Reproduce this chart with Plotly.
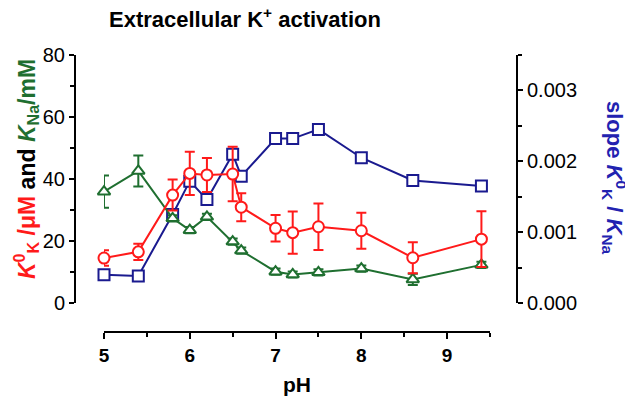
import plotly.graph_objects as go

# ---- data ----
ph = [5.0, 5.4, 5.8, 6.0, 6.2, 6.5, 6.6, 7.0, 7.2, 7.5, 8.0, 8.6, 9.4]
k0_k = [14.5, 16.5, 34.8, 41.8, 41.3, 41.6, 30.9, 24.1, 22.7, 24.6, 23.3, 14.6, 20.6]
k0_k_err = [2.5, 2.6, 5.0, 7.0, 5.5, 8.8, 4.5, 4.3, 6.8, 7.5, 5.8, 5.0, 9.0]
k_na = [35.9, 42.6, 27.3, 23.5, 27.8, 19.8, 16.9, 10.1, 9.2, 9.9, 11.1, 7.6, 12.3]
k_na_err = [5.2, 5.0, 1.0, 1.0, 1.0, 1.0, 1.0, 1.0, 1.0, 1.0, 1.0, 1.8, 1.0]
slope = [0.00040, 0.00038, 0.00125, 0.00172, 0.00146, 0.00210, 0.00179,
         0.00232, 0.00232, 0.00245, 0.00205, 0.00173, 0.00165]

x_ticks = [5, 6, 7, 8, 9]

RED = "#ff1a1a"
GREEN = "#1f6f30"
BLUE = "#1a1a8f"
BLUE_TEXT = "#2222b0"
FONT = "Liberation Sans, Arial, sans-serif"

fig = go.Figure()

fig.add_trace(go.Scatter(
    x=ph, y=slope, yaxis="y", mode="lines+markers",
    line=dict(color=BLUE, width=2),
    marker=dict(symbol="square", size=11, color="white", line=dict(color=BLUE, width=2)),
    cliponaxis=False, showlegend=False))

fig.add_trace(go.Scatter(
    x=ph, y=k_na, yaxis="y2", mode="lines+markers",
    line=dict(color=GREEN, width=2),
    marker=dict(symbol="triangle-up", size=11, color="white", line=dict(color=GREEN, width=2)),
    error_y=dict(type="data", array=k_na_err, color=GREEN, thickness=2, width=5),
    cliponaxis=False, showlegend=False))

fig.add_trace(go.Scatter(
    x=ph, y=k0_k, yaxis="y2", mode="lines+markers",
    line=dict(color=RED, width=2),
    marker=dict(symbol="circle", size=11, color="white", line=dict(color=RED, width=2)),
    error_y=dict(type="data", array=k0_k_err, color=RED, thickness=2, width=5),
    cliponaxis=False, showlegend=False))

# page body has an 8px margin, so the figure is 8px smaller and shifted
OFF = 8
W, H = 633 - OFF, 397 - OFF
L, R, T, B = 75 - OFF, 116, 55 - OFF, 65
pw, ph_ = W - L - R, H - T - B


def px(xp):
    """reference pixel x -> paper fraction"""
    return (xp - OFF - L) / pw


def py(yp):
    """reference pixel y -> paper fraction"""
    return (H - B - (yp - OFF)) / ph_


axis_common = dict(showgrid=False, zeroline=False, showline=True, linecolor="black",
                   linewidth=2, ticks="outside", tickcolor="black", tickwidth=2)

fig.update_layout(
    width=W, height=H,
    margin=dict(l=L, r=R, t=T, b=B),
    paper_bgcolor="white", plot_bgcolor="white",
    font=dict(family=FONT, color="black"),
    xaxis=dict(**axis_common, range=[5, 9.5], domain=[px(104), px(490)],
               anchor="free", position=0, tickvals=x_ticks, ticklen=6,
               tickfont=dict(size=19, family=FONT, color="black", weight="bold"),
               minor=dict(dtick=0.5, tick0=5, ticklen=4, tickwidth=2, ticks="outside",
                          tickcolor="black")),
    yaxis=dict(**axis_common, range=[0, 0.0035], domain=[py(303), 1],
               anchor="free", position=1, side="right", dtick=0.001, tick0=0,
               tickformat=".3f", ticklen=5,
               tickfont=dict(size=20, family=FONT, color="black"),
               minor=dict(dtick=0.0005, tick0=0, ticklen=4, tickwidth=2, ticks="outside",
                          tickcolor="black")),
    yaxis2=dict(**axis_common, range=[0, 80], domain=[py(303), 1],
                overlaying="y", anchor="free", position=0, side="left", dtick=20, tick0=0,
                ticklen=5, tickfont=dict(size=20, family=FONT, color="black"),
                minor=dict(dtick=10, tick0=0, ticklen=4, tickwidth=2, ticks="outside",
                           tickcolor="black")),
)

left_title = (f'<span style="color:{RED}"><i>K</i><sup>0</sup><sub>K</sub> /μM</span>'
              f' and '
              f'<span style="color:{GREEN}"><i>K</i><sub>Na</sub>/mM</span>')
right_title = 'slope <i>K</i><sup>0</sup><sub>K</sub> / <i>K</i><sub>Na</sub>'

fig.add_annotation(text="<b>Extracellular K<sup>+</sup> activation</b>",
                   xref="paper", yref="paper", x=px(245), y=py(18),
                   xanchor="center", yanchor="middle", showarrow=False,
                   font=dict(size=22, family=FONT, color="black"))
fig.add_annotation(text=f"<b>{left_title}</b>", textangle=-90,
                   xref="paper", yref="paper", x=px(26), y=py(169),
                   xanchor="center", yanchor="middle", showarrow=False,
                   font=dict(size=23, family=FONT, color="black"))
fig.add_annotation(text=f"<b>{right_title}</b>", textangle=90,
                   xref="paper", yref="paper", x=px(615), y=py(178),
                   xanchor="center", yanchor="middle", showarrow=False,
                   font=dict(size=22, family=FONT, color=BLUE_TEXT))
fig.add_annotation(text="<b>pH</b>",
                   xref="paper", yref="paper", x=px(297), y=py(384),
                   xanchor="center", yanchor="middle", showarrow=False,
                   font=dict(size=21, family=FONT, color="black"))

fig.write_html("out.html")
